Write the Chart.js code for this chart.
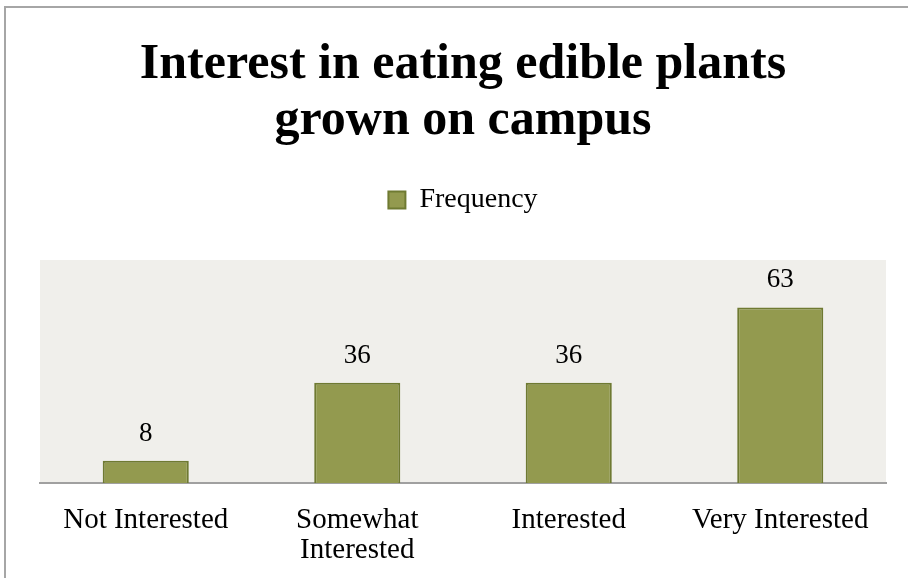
<!DOCTYPE html>
<html>
<head>
<meta charset="utf-8">
<script src="https://cdn.jsdelivr.net/npm/chart.js@4/dist/chart.umd.min.js"></script>
<style>
  html, body { margin: 0; padding: 0; background: #ffffff; }
  #wrap { width: 908px; height: 578px; position: relative; }
</style>
</head>
<body>
<div id="wrap"><canvas id="c" width="908" height="578"></canvas></div>
<script>
// Survey responses: interest in eating edible plants grown on campus
const categories = [
  'Not Interested',
  ['Somewhat', 'Interested'],
  'Interested',
  'Very Interested'
];
const frequency = [8, 36, 36, 63];
const seriesName = 'Frequency';
const titleLines = ['Interest in eating edible plants', 'grown on campus'];

const SERIF = "'Liberation Serif', 'Times New Roman', serif";
const BAR_FILL = '#939A4F';
const BAR_EDGE = '#6F7A32';

// Outer frame and shaded plot area
const backdrop = {
  id: 'backdrop',
  beforeDraw(chart) {
    const { ctx, chartArea: a } = chart;
    ctx.save();
    ctx.fillStyle = '#F0EFEB';
    ctx.fillRect(a.left, a.top, a.right - a.left, a.bottom - a.top);
    ctx.strokeStyle = '#A6A6A6';
    ctx.lineWidth = 2;
    ctx.beginPath();
    ctx.moveTo(5, chart.height);
    ctx.lineTo(5, 7);
    ctx.lineTo(chart.width, 7);
    ctx.stroke();
    ctx.restore();
  }
};

// Value labels above each bar
const valueLabels = {
  id: 'valueLabels',
  afterDatasetsDraw(chart) {
    const { ctx } = chart;
    ctx.save();
    ctx.font = '27px ' + SERIF;
    ctx.fillStyle = '#000';
    ctx.textAlign = 'center';
    ctx.textBaseline = 'alphabetic';
    chart.data.datasets.forEach((ds, i) => {
      chart.getDatasetMeta(i).data.forEach((bar, j) => {
        ctx.fillText(String(ds.data[j]), bar.x, bar.y - 20);
      });
    });
    ctx.restore();
  }
};

new Chart(document.getElementById('c'), {
  type: 'bar',
  data: {
    labels: categories,
    datasets: [{
      label: seriesName,
      data: frequency,
      backgroundColor: BAR_FILL,
      borderColor: BAR_EDGE,
      borderWidth: 2,
      borderSkipped: 'bottom',
      categoryPercentage: 1,
      barPercentage: 0.407
    }]
  },
  options: {
    responsive: false,
    devicePixelRatio: 1,
    animation: false,
    layout: { padding: { left: 40, right: 22, top: 0, bottom: 0 } },
    plugins: {
      title: {
        display: true,
        text: titleLines,
        color: '#000',
        font: { family: SERIF, size: 50, weight: 'bold', lineHeight: 1.12 },
        padding: { top: 37, bottom: 27 }
      },
      legend: {
        display: true,
        labels: {
          color: '#000',
          font: { family: SERIF, size: 28 },
          boxWidth: 17,
          boxHeight: 17,
          padding: 10
        }
      },
      tooltip: { enabled: false }
    },
    scales: {
      x: {
        grid: { display: false, drawTicks: false },
        border: { display: true, color: '#A0A0A0', width: 2 },
        ticks: {
          color: '#000',
          font: { family: SERIF, size: 29, lineHeight: 1.04 },
          padding: 22,
          maxRotation: 0,
          autoSkip: false
        },
        afterFit(scale) { scale.height = 95; }
      },
      // empty band between the legend and the plot area
      xGap: {
        type: 'category',
        position: 'top',
        grid: { display: false, drawTicks: false },
        border: { display: false },
        ticks: { display: false },
        afterFit(scale) { scale.height = 36; }
      },
      y: {
        display: false,
        min: 0,
        max: 80
      }
    }
  },
  plugins: [backdrop, valueLabels]
});
</script>
</body>
</html>
